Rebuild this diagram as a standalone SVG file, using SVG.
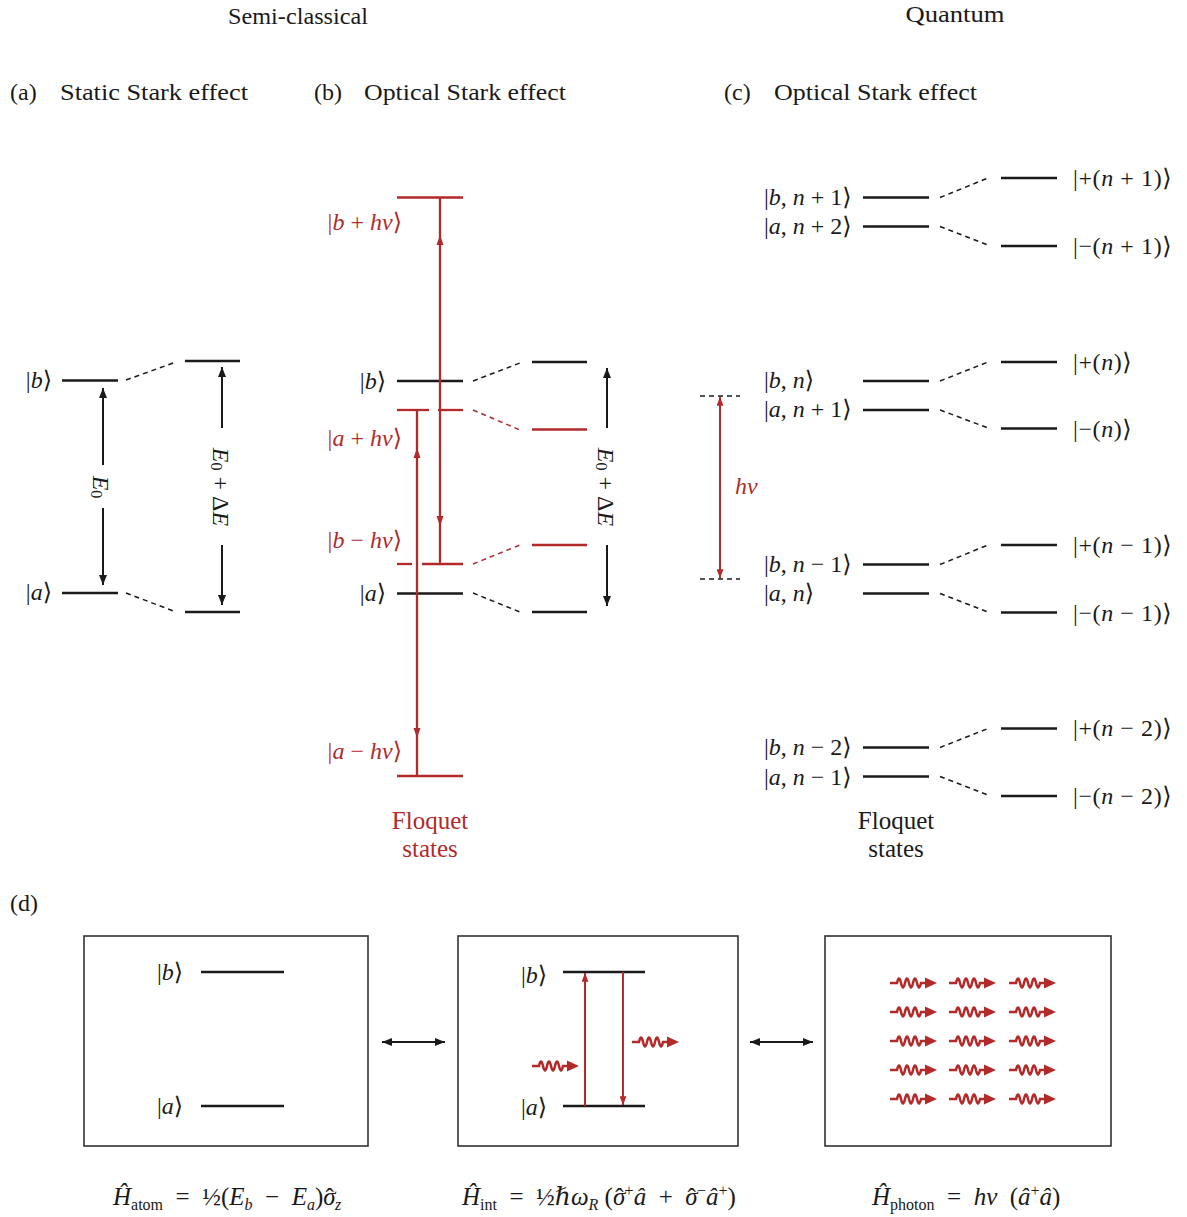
<svg xmlns="http://www.w3.org/2000/svg" width="1187" height="1217" viewBox="0 0 1187 1217">
<style>
text{font-family:"Liberation Serif","DejaVu Serif","DejaVu Sans",serif;font-size:24px;fill:#1a1a1a}
.i{font-style:italic}
.r{fill:#b22a2a}
.lv{stroke:#1a1a1a;stroke-width:2.5}
.lr{stroke:#b22a2a;stroke-width:2.3}
.ds{stroke:#1a1a1a;stroke-width:1.5;stroke-dasharray:5 4;fill:none}
.dr{stroke:#b22a2a;stroke-width:1.5;stroke-dasharray:5 4;fill:none}
.ar{stroke:#1a1a1a;stroke-width:2;fill:none}
.arr{stroke:#b22a2a;stroke-width:2;fill:none}
.box{fill:none;stroke:#333;stroke-width:1.6}
.sub{font-size:16px}
.hd{fill:#b22a2a}
.fq{font-size:25px}
.fm{font-size:25px}
.rk{letter-spacing:0.6px}
</style>
<defs>
<marker id="ah" viewBox="0 0 10 8" refX="10" refY="4" markerWidth="10" markerHeight="8" markerUnits="userSpaceOnUse" orient="auto-start-reverse"><path d="M0,0L10,4L0,8z" fill="#1a1a1a"/></marker>
<marker id="ahr" viewBox="0 0 10 8" refX="10" refY="4" markerWidth="10" markerHeight="7" markerUnits="userSpaceOnUse" orient="auto-start-reverse"><path d="M0,0L10,4L0,8z" fill="#b22a2a"/></marker>
<g id="wv"><path d="M0,0H7q2,-9 4,0t4,0t4,0t4,0t4,0t4,0H37" fill="none" stroke="#b22a2a" stroke-width="2.5"/><path d="M35,-5.5L47,0L35,5.5z" fill="#b22a2a"/></g>
</defs>

<g id="headers">
<text x="298" y="24" text-anchor="middle" textLength="140" lengthAdjust="spacingAndGlyphs">Semi-classical</text>
<text x="955" y="22" text-anchor="middle" textLength="99" lengthAdjust="spacingAndGlyphs">Quantum</text>
<text x="10" y="100">(a)</text><text x="60" y="100" textLength="188" lengthAdjust="spacingAndGlyphs">Static Stark effect</text>
<text x="314" y="100">(b)</text><text x="364" y="100" textLength="202" lengthAdjust="spacingAndGlyphs">Optical Stark effect</text>
<text x="724" y="100">(c)</text><text x="774" y="100" textLength="203" lengthAdjust="spacingAndGlyphs">Optical Stark effect</text>
<text x="10" y="911">(d)</text>
</g>

<!-- Panel (a) -->
<g id="a-b"><line class="lv" x1="62" y1="380.5" x2="118" y2="380.5"/><text x="52" y="388" text-anchor="end">|<tspan class="i">b</tspan>⟩</text></g>
<g id="a-a"><line class="lv" x1="62" y1="593" x2="118" y2="593"/><text x="52" y="600" text-anchor="end">|<tspan class="i">a</tspan>⟩</text></g>
<g id="a-b2"><line class="lv" x1="185" y1="361" x2="240" y2="361"/></g>
<g id="a-a2"><line class="lv" x1="185" y1="612" x2="240" y2="612"/></g>
<g id="a-labels">
<text transform="translate(101,487) rotate(90)" text-anchor="middle" dominant-baseline="central"><tspan class="i">E</tspan><tspan class="sub" dy="4">0</tspan></text>
<text transform="translate(221,487) rotate(90)" text-anchor="middle" dominant-baseline="central"><tspan class="i">E</tspan><tspan class="sub" dy="4">0</tspan><tspan dy="-4"> + Δ</tspan><tspan class="i">E</tspan></text>
</g>

<!-- Panel (b) -->
<g id="b-bhv"><line class="lr" x1="397" y1="197.5" x2="463" y2="197.5"/><text class="r" x="402" y="230" text-anchor="end">|<tspan class="i">b</tspan> + <tspan class="i">hν</tspan>⟩</text></g>
<g id="b-b"><line class="lv" x1="397" y1="381" x2="463" y2="381"/><text x="386" y="389" text-anchor="end">|<tspan class="i">b</tspan>⟩</text></g>
<g id="b-ahv"><line class="lr" x1="397" y1="410" x2="429" y2="410"/><line class="lr" x1="438" y1="410" x2="463" y2="410"/><text class="r" x="402" y="446" text-anchor="end">|<tspan class="i">a</tspan> + <tspan class="i">hν</tspan>⟩</text></g>
<g id="b-bmhv"><line class="lr" x1="397" y1="564" x2="412" y2="564"/><line class="lr" x1="422" y1="564" x2="463" y2="564"/><text class="r" x="402" y="548" text-anchor="end">|<tspan class="i">b</tspan> − <tspan class="i">hν</tspan>⟩</text></g>
<g id="b-a"><line class="lv" x1="397" y1="593.5" x2="463" y2="593.5"/><text x="386" y="601" text-anchor="end">|<tspan class="i">a</tspan>⟩</text></g>
<g id="b-amhv"><line class="lr" x1="397" y1="776" x2="463" y2="776"/><text class="r" x="402" y="759" text-anchor="end">|<tspan class="i">a</tspan> − <tspan class="i">hν</tspan>⟩</text></g>
<g id="b-r1"><line class="lv" x1="532" y1="362" x2="587" y2="362"/></g>
<g id="b-r2"><line class="lr" x1="532" y1="429.5" x2="587" y2="429.5"/></g>
<g id="b-r3"><line class="lr" x1="532" y1="545" x2="587" y2="545"/></g>
<g id="b-r4"><line class="lv" x1="532" y1="612" x2="587" y2="612"/></g>
<g id="b-floquet"><text class="r fq" x="430" y="829" text-anchor="middle">Floquet</text><text class="r fq" x="430" y="857" text-anchor="middle">states</text></g>
<g id="b-labels">
<text transform="translate(606,487) rotate(90)" text-anchor="middle" dominant-baseline="central"><tspan class="i">E</tspan><tspan class="sub" dy="4">0</tspan><tspan dy="-4"> + Δ</tspan><tspan class="i">E</tspan></text>
</g>

<!-- Panel (c) -->
<g id="c-g1">
<line class="lv" x1="863" y1="197.5" x2="929" y2="197.5"/><line class="lv" x1="863" y1="226.5" x2="929" y2="226.5"/>
<text x="764" y="205">|<tspan class="i">b</tspan>, <tspan class="i">n</tspan> + 1⟩</text>
<text x="764" y="234">|<tspan class="i">a</tspan>, <tspan class="i">n</tspan> + 2⟩</text>
</g>
<g id="c-g1r">
<line class="lv" x1="1001" y1="178" x2="1057" y2="178"/><line class="lv" x1="1001" y1="246" x2="1057" y2="246"/>
<text class="rk" x="1073" y="186">|+(<tspan class="i">n</tspan> + 1)⟩</text>
<text class="rk" x="1073" y="254">|−(<tspan class="i">n</tspan> + 1)⟩</text>
</g>
<g id="c-g2">
<line class="lv" x1="863" y1="381" x2="929" y2="381"/><line class="lv" x1="863" y1="410" x2="929" y2="410"/>
<text x="764" y="388">|<tspan class="i">b</tspan>, <tspan class="i">n</tspan>⟩</text>
<text x="764" y="417">|<tspan class="i">a</tspan>, <tspan class="i">n</tspan> + 1⟩</text>
</g>
<g id="c-g2r">
<line class="lv" x1="1001" y1="362" x2="1057" y2="362"/><line class="lv" x1="1001" y1="428.5" x2="1057" y2="428.5"/>
<text class="rk" x="1073" y="370">|+(<tspan class="i">n</tspan>)⟩</text>
<text class="rk" x="1073" y="437">|−(<tspan class="i">n</tspan>)⟩</text>
</g>
<g id="c-g3">
<line class="lv" x1="863" y1="564.5" x2="929" y2="564.5"/><line class="lv" x1="863" y1="593.5" x2="929" y2="593.5"/>
<text x="764" y="572">|<tspan class="i">b</tspan>, <tspan class="i">n</tspan> − 1⟩</text>
<text x="764" y="601">|<tspan class="i">a</tspan>, <tspan class="i">n</tspan>⟩</text>
</g>
<g id="c-g3r">
<line class="lv" x1="1001" y1="545" x2="1057" y2="545"/><line class="lv" x1="1001" y1="612.5" x2="1057" y2="612.5"/>
<text class="rk" x="1073" y="553">|+(<tspan class="i">n</tspan> − 1)⟩</text>
<text class="rk" x="1073" y="621">|−(<tspan class="i">n</tspan> − 1)⟩</text>
</g>
<g id="c-g4">
<line class="lv" x1="863" y1="747.5" x2="929" y2="747.5"/><line class="lv" x1="863" y1="776.5" x2="929" y2="776.5"/>
<text x="764" y="755">|<tspan class="i">b</tspan>, <tspan class="i">n</tspan> − 2⟩</text>
<text x="764" y="785">|<tspan class="i">a</tspan>, <tspan class="i">n</tspan> − 1⟩</text>
</g>
<g id="c-g4r">
<line class="lv" x1="1001" y1="728.5" x2="1057" y2="728.5"/><line class="lv" x1="1001" y1="796" x2="1057" y2="796"/>
<text class="rk" x="1073" y="736">|+(<tspan class="i">n</tspan> − 2)⟩</text>
<text class="rk" x="1073" y="804">|−(<tspan class="i">n</tspan> − 2)⟩</text>
</g>
<g id="c-floquet"><text class="fq" x="896" y="829" text-anchor="middle">Floquet</text><text class="fq" x="896" y="857" text-anchor="middle">states</text></g>
<g id="c-hv"><text class="r i" x="735" y="494">hν</text></g>

<!-- Panel (d) -->
<g id="d-box1">
<rect class="box" x="84" y="936" width="284" height="210"/>
<line class="lv" x1="201" y1="972" x2="284" y2="972"/><text x="157" y="980">|<tspan class="i">b</tspan>⟩</text>
<line class="lv" x1="201" y1="1106" x2="284" y2="1106"/><text x="157" y="1114">|<tspan class="i">a</tspan>⟩</text>
</g>
<g id="d-box2">
<rect class="box" x="458" y="936" width="280" height="210"/>
<line class="lv" x1="563" y1="972" x2="645" y2="972"/><text x="521" y="983">|<tspan class="i">b</tspan>⟩</text>
<line class="lv" x1="563" y1="1106" x2="645" y2="1106"/><text x="521" y="1115">|<tspan class="i">a</tspan>⟩</text>
<use href="#wv" x="532" y="1066"/>
<use href="#wv" x="632" y="1042"/>
</g>
<g id="d-box3">
<rect class="box" x="825" y="936" width="286" height="210"/>
<use href="#wv" x="890" y="983"/><use href="#wv" x="949" y="983"/><use href="#wv" x="1009" y="983"/>
<use href="#wv" x="890" y="1012"/><use href="#wv" x="949" y="1012"/><use href="#wv" x="1009" y="1012"/>
<use href="#wv" x="890" y="1041"/><use href="#wv" x="949" y="1041"/><use href="#wv" x="1009" y="1041"/>
<use href="#wv" x="890" y="1070"/><use href="#wv" x="949" y="1070"/><use href="#wv" x="1009" y="1070"/>
<use href="#wv" x="890" y="1099"/><use href="#wv" x="949" y="1099"/><use href="#wv" x="1009" y="1099"/>
</g>
<g id="formulas">
<text class="fm" x="113" y="1205"><tspan class="i">Ĥ</tspan><tspan class="sub" dy="5">atom</tspan><tspan dy="-5">&#8194;=&#8194;½(</tspan><tspan class="i">E</tspan><tspan class="sub i" dy="5">b</tspan><tspan dy="-5">&#8194;−&#8194;</tspan><tspan class="i">E</tspan><tspan class="sub i" dy="5">a</tspan><tspan dy="-5">)</tspan><tspan class="i">σ</tspan><tspan dx="-10" dy="1">ˆ</tspan><tspan class="sub i" dx="1" dy="4">z</tspan></text>
<text class="fm" x="462" y="1205"><tspan class="i">Ĥ</tspan><tspan class="sub" dy="5">int</tspan><tspan dy="-5">&#8194;=&#8194;½ℏ</tspan><tspan class="i">ω</tspan><tspan class="sub i" dy="5">R</tspan><tspan dy="-5"> (</tspan><tspan class="i">σ</tspan><tspan dx="-10" dy="1">ˆ</tspan><tspan class="sub" dx="1" dy="-10">+</tspan><tspan class="i" dy="9">â</tspan><tspan>&#8194;+&#8194;</tspan><tspan class="i">σ</tspan><tspan dx="-10" dy="1">ˆ</tspan><tspan class="sub" dx="1" dy="-10">−</tspan><tspan class="i" dy="9">â</tspan><tspan class="sub" dy="-9">+</tspan><tspan dy="9">)</tspan></text>
<text class="fm" x="872" y="1205"><tspan class="i">Ĥ</tspan><tspan class="sub" dy="5">photon</tspan><tspan dy="-5">&#8194;=&#8194;</tspan><tspan class="i">hν</tspan><tspan>&#8194;(</tspan><tspan class="i">â</tspan><tspan class="sub" dy="-9">+</tspan><tspan class="i" dy="9">â</tspan><tspan>)</tspan></text>
</g>

<g id="connectors">
<!-- (a) -->
<line class="ds" x1="126" y1="380" x2="176" y2="362"/>
<line class="ds" x1="126" y1="593" x2="176" y2="612"/>
<line class="ar" x1="103" y1="465" x2="103" y2="388" marker-end="url(#ah)"/>
<line class="ar" x1="103" y1="508" x2="103" y2="585" marker-end="url(#ah)"/>
<line class="ar" x1="222" y1="428" x2="222" y2="367" marker-end="url(#ah)"/>
<line class="ar" x1="222" y1="545" x2="222" y2="605" marker-end="url(#ah)"/>
<!-- (b) -->
<line class="ds" x1="473" y1="381" x2="520" y2="363"/>
<line class="dr" x1="473" y1="410" x2="520" y2="430"/>
<line class="dr" x1="473" y1="564" x2="520" y2="545"/>
<line class="ds" x1="473" y1="593" x2="520" y2="612"/>
<line class="ar" x1="607" y1="428" x2="607" y2="368" marker-end="url(#ah)"/>
<line class="ar" x1="607" y1="545" x2="607" y2="606" marker-end="url(#ah)"/>
<line class="lr" x1="440" y1="197" x2="440" y2="564"/>
<path class="hd" d="M440,235L436.5,245L443.5,245z"/>
<path class="hd" d="M440,526L436.5,516L443.5,516z"/>
<line class="lr" x1="417" y1="410" x2="417" y2="776"/>
<path class="hd" d="M417,448L413.5,458L420.5,458z"/>
<path class="hd" d="M417,738L413.5,728L420.5,728z"/>
<!-- (c) -->
<line class="ds" x1="940" y1="197.5" x2="988" y2="178"/><line class="ds" x1="940" y1="226.5" x2="988" y2="245"/>
<line class="ds" x1="940" y1="381" x2="988" y2="362"/><line class="ds" x1="940" y1="410" x2="988" y2="428"/>
<line class="ds" x1="940" y1="564.5" x2="988" y2="545"/><line class="ds" x1="940" y1="593.5" x2="988" y2="612"/>
<line class="ds" x1="940" y1="747.5" x2="988" y2="728.5"/><line class="ds" x1="940" y1="776.5" x2="988" y2="795"/>
<line class="ds" x1="700" y1="396" x2="740" y2="396"/>
<line class="ds" x1="700" y1="579" x2="740" y2="579"/>
<line class="arr" x1="720" y1="397" x2="720" y2="578" marker-start="url(#ahr)" marker-end="url(#ahr)"/>
<!-- (d) -->
<line class="arr" x1="585" y1="1106" x2="585" y2="973" marker-end="url(#ahr)"/>
<line class="arr" x1="623" y1="972" x2="623" y2="1105" marker-end="url(#ahr)"/>
<line class="ar" x1="382" y1="1042" x2="445" y2="1042" marker-start="url(#ah)" marker-end="url(#ah)"/>
<line class="ar" x1="750" y1="1042" x2="813" y2="1042" marker-start="url(#ah)" marker-end="url(#ah)"/>
</g>
</svg>
